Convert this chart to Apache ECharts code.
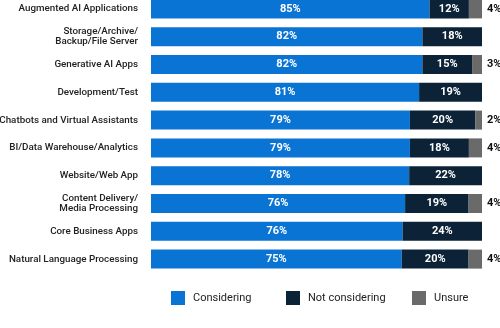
<!DOCTYPE html>
<html><head><meta charset="utf-8">
<script src="https://cdn.jsdelivr.net/npm/echarts@6/dist/echarts.min.js"></script>
<style>html,body{margin:0;padding:0;background:#fff}#c{width:500px;height:328px}</style>
</head><body><div id="c"></div>
<script>
const categories = ["Augmented AI Applications","Storage/Archive/\nBackup/File Server","Generative AI Apps","Development/Test","Chatbots and Virtual Assistants","BI/Data Warehouse/Analytics","Website/Web App","Content Delivery/\nMedia Processing","Core Business Apps","Natural Language Processing"];
const considering = [85,82,82,81,79,79,78,76,76,75];
const notConsidering = [12,18,15,19,20,18,22,19,24,20];
const unsure = [4,0,3,0,2,4,0,4,0,4];
const seriesNames = ["Considering","Not considering","Unsure"];
const colors = ["#0a74d4","#0c2236","#6a6a6a"];

const totals = categories.map((_, i) => considering[i] + notConsidering[i] + unsure[i]);
function norm(arr){ return arr.map((v,i)=>({value: v*100/totals[i], raw: v})); }
const font = "Roboto, Inter, sans-serif";
const chart = echarts.init(document.getElementById('c'));
const lblInside = (color) => ({show:true, position:'inside', color:color, fontWeight:'bold', fontSize:11, fontFamily:font,
  formatter: p => p.data.raw ? p.data.raw + '%' : ''});
const legendLefts = [171, 286, 412];
chart.setOption({
  animation:false,
  grid:{left:151, right:18, top:-5, height:278, containLabel:false, outerBoundsMode:'none'},
  xAxis:{type:'value', min:0, max:100, show:false},
  yAxis:{type:'category', data:categories, inverse:true, axisLine:{show:false}, axisTick:{show:false},
    axisLabel:{color:'#222', fontSize:9.8, fontFamily:font, fontWeight:500, margin:13, lineHeight:10.5, align:'right'}},
  legend: seriesNames.map((n,i)=>({top:291, left:legendLefts[i], padding:0, itemWidth:14, itemHeight:14, icon:'rect',
    textStyle:{color:'#222', fontSize:11, fontFamily:font, padding:[0,0,0,3]}, data:[n]})),
  series:[
    {name:seriesNames[0], type:'bar', stack:'s', barWidth:19, data:norm(considering), itemStyle:{color:colors[0]}, label:lblInside('#fff')},
    {name:seriesNames[1], type:'bar', stack:'s', barWidth:19, data:norm(notConsidering), itemStyle:{color:colors[1]}, label:lblInside('#fff')},
    {name:seriesNames[2], type:'bar', stack:'s', barWidth:19, data:norm(unsure), itemStyle:{color:colors[2]},
      label:{show:true, position:'right', distance:5, color:'#111', fontWeight:'bold', fontSize:11, fontFamily:font,
        formatter: p => p.data.raw ? p.data.raw + '%' : ''}}
  ]
});
</script></body></html>
